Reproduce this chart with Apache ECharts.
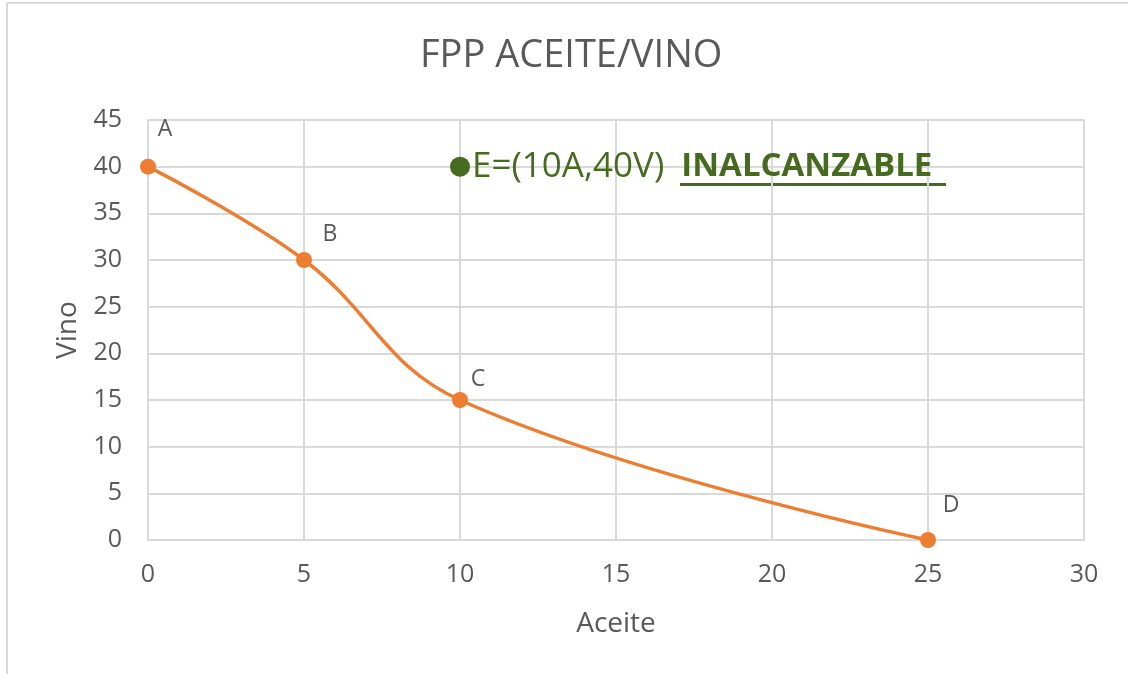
<!DOCTYPE html>
<html>
<head>
    <meta charset="utf-8">
    <title>FPP ACEITE/VINO</title>
    <script type="text/javascript" src="https://cdn.jsdelivr.net/npm/echarts@6/dist/echarts.min.js"></script>
    <style>
        html, body { margin: 0; padding: 0; background: #fff; }
        #fpp { width: 1128px; height: 674px; }
    </style>
</head>
<body>
<div id="fpp"></div>

<script type="text/javascript">
    // datos de la frontera
    var puntos = ['A', 'B', 'C', 'D'];
    var aceite = [0, 5, 10, 25];
    var vino = [40, 30, 15, 0];
    // punto inalcanzable
    var puntoE = [10, 40];
    var textoE = 'E=(10A,40V)';
    var textoE2 = '  INALCANZABLE';

    // desplazamiento de cada etiqueta (px)
    var desplaz = [[17, -37], [26, -26], [18, -21], [23, -35]];

    var gris = '#595959';
    var verde = '#466b1f';
    var fuente = 'Open Sans';

    var myChart = echarts.init(document.getElementById('fpp'));

    var datos = [];
    for (var i = 0; i < puntos.length; i++) {
        datos.push({
            value: [aceite[i], vino[i]],
            name: puntos[i],
            label: { offset: desplaz[i] }
        });
    }

    var option = {
        backgroundColor: '#fff',
        animation: false,
        title: {
            text: 'FPP ACEITE/VINO',
            left: 415,
            top: 32,
            textStyle: { color: gris, fontSize: 38, fontWeight: 'normal', fontFamily: fuente }
        },
        grid: { left: 148, top: 120, width: 936, height: 420 },
        xAxis: {
            type: 'value',
            min: 0, max: 30, interval: 5,
            name: 'Aceite',
            nameLocation: 'middle',
            nameGap: 70,
            nameTextStyle: { color: gris, fontSize: 28, fontFamily: fuente },
            axisLine: { show: true, lineStyle: { color: '#d9d9d9', width: 2 } },
            axisTick: { show: false },
            axisLabel: { color: gris, fontSize: 25, fontFamily: fuente, margin: 22 },
            splitLine: { lineStyle: { color: '#d9d9d9', width: 2 } }
        },
        yAxis: {
            type: 'value',
            min: 0, max: 45, interval: 5,
            name: 'Vino',
            nameLocation: 'middle',
            nameRotate: 90,
            nameGap: 66,
            nameTextStyle: { color: gris, fontSize: 28, fontFamily: fuente },
            axisLine: { show: true, lineStyle: { color: '#d9d9d9', width: 2 } },
            axisTick: { show: false },
            axisLabel: { color: gris, fontSize: 25, fontFamily: fuente, margin: 26 },
            splitLine: { lineStyle: { color: '#d9d9d9', width: 2 } }
        },
        series: [
            {
                name: 'FPP',
                type: 'line',
                smooth: 0.4,
                data: datos,
                symbol: 'circle',
                symbolSize: 16,
                itemStyle: { color: '#ED7D31' },
                lineStyle: { color: '#ED7D31', width: 3.5 },
                label: {
                    show: true,
                    position: 'inside',
                    formatter: '{b}',
                    color: gris,
                    fontSize: 23,
                    fontFamily: fuente
                }
            },
            {
                name: 'E',
                type: 'scatter',
                data: [puntoE],
                symbol: 'circle',
                symbolSize: 20,
                itemStyle: { color: verde, opacity: 1 },
                label: {
                    show: true,
                    position: 'right',
                    distance: 2,
                    formatter: '{a|' + textoE + '}{b|' + textoE2 + '}',
                    rich: {
                        a: { color: verde, fontSize: 35, fontFamily: fuente },
                        b: { color: verde, fontSize: 33, fontWeight: 'bold', fontFamily: fuente }
                    }
                }
            }
        ],
        graphic: [
            {
                type: 'rect',
                shape: { x: 7, y: 3, width: 1300, height: 800 },
                style: { fill: null, stroke: '#d9d9d9', lineWidth: 2 },
                silent: true
            },
            {
                // subrayado de INALCANZABLE
                type: 'rect',
                shape: { x: 680, y: 183, width: 266, height: 3 },
                style: { fill: verde },
                silent: true
            }
        ]
    };
    myChart.setOption(option);
</script>
</body>
</html>
